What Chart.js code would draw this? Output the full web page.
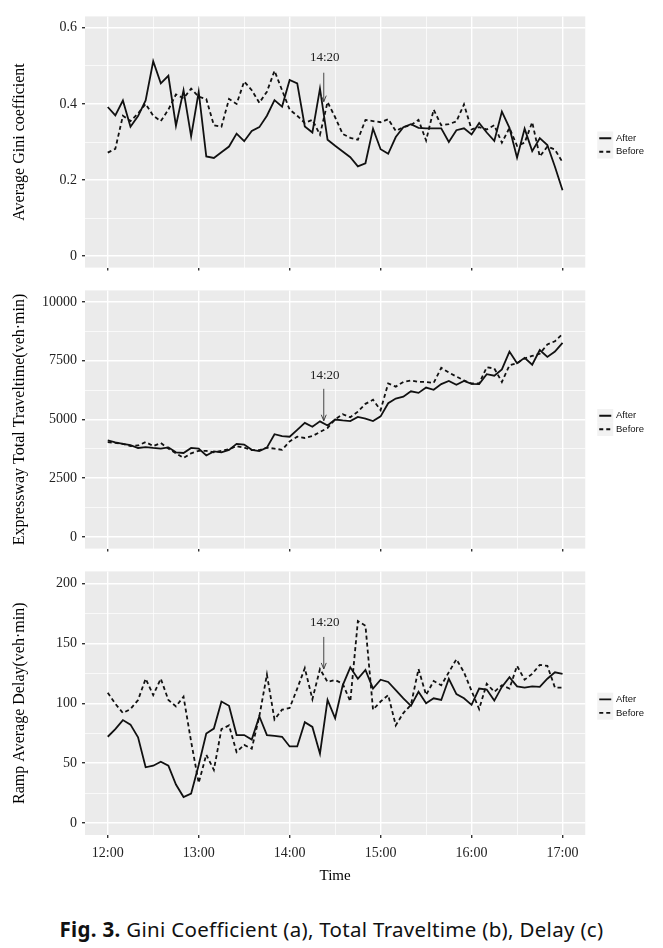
<!DOCTYPE html>
<html>
<head>
<meta charset="utf-8">
<script src="https://cdn.jsdelivr.net/npm/chart.js@4/dist/chart.umd.min.js"></script>
<style>
  html, body { margin: 0; padding: 0; background: #fff; }
  #page { position: relative; width: 663px; height: 948px; overflow: hidden; }
  canvas { position: absolute; left: 0; }
  #caption {
    position: absolute; left: 0; top: 917px; width: 663px;
    text-align: center; font: 20.5px "Noto Sans", sans-serif; line-height: 24px;
    letter-spacing: 0.3px; color: #111;
  }
</style>
</head>
<body>
<div id="page">
  <canvas id="gini" width="663" height="278" style="top:3px"></canvas>
  <canvas id="travel" width="663" height="285" style="top:277px"></canvas>
  <canvas id="delay" width="663" height="327" style="top:558px"></canvas>
  <div id="caption"><b>Fig. 3.</b> Gini Coefficient (a), Total Traveltime (b), Delay (c)</div>
</div>
<script>
// ---- data (5 minute steps, 12:00 - 17:00) ----
const TIMES = ["12:00","12:05","12:10","12:15","12:20","12:25","12:30","12:35","12:40","12:45",
  "12:50","12:55","13:00","13:05","13:10","13:15","13:20","13:25","13:30","13:35",
  "13:40","13:45","13:50","13:55","14:00","14:05","14:10","14:15","14:20","14:25",
  "14:30","14:35","14:40","14:45","14:50","14:55","15:00","15:05","15:10","15:15",
  "15:20","15:25","15:30","15:35","15:40","15:45","15:50","15:55","16:00","16:05",
  "16:10","16:15","16:20","16:25","16:30","16:35","16:40","16:45","16:50","16:55","17:00"];

const GINI_AFTER = [0.392,0.370,0.409,0.340,0.368,0.409,0.512,0.454,0.474,0.343,
  0.436,0.315,0.432,0.262,0.258,0.273,0.288,0.322,0.302,0.329,
  0.339,0.369,0.410,0.393,0.463,0.454,0.341,0.325,0.440,0.306,
  0.290,0.275,0.260,0.236,0.244,0.335,0.281,0.269,0.313,0.339,
  0.347,0.337,0.336,0.336,0.336,0.300,0.331,0.336,0.320,0.350,
  0.325,0.303,0.380,0.337,0.259,0.335,0.276,0.310,0.292,0.235,0.173];
const GINI_BEFORE = [0.272,0.282,0.369,0.355,0.375,0.400,0.369,0.355,0.385,0.425,
  0.415,0.440,0.419,0.413,0.344,0.340,0.413,0.400,0.459,0.436,
  0.403,0.432,0.487,0.436,0.385,0.369,0.350,0.358,0.319,0.405,
  0.365,0.321,0.311,0.306,0.358,0.355,0.352,0.360,0.329,0.339,
  0.344,0.358,0.304,0.385,0.344,0.347,0.354,0.399,0.333,0.339,
  0.333,0.344,0.298,0.337,0.290,0.298,0.352,0.262,0.288,0.280,0.247];

const TT_AFTER = [4107,4027,3960,3907,3787,3827,3787,3760,3813,3600,
  3573,3787,3760,3467,3640,3600,3707,3960,3933,3707,
  3653,3800,4373,4293,4267,4560,4853,4693,4920,4747,
  5000,4960,4933,5107,5040,4933,5133,5693,5893,5973,
  6200,6133,6360,6267,6507,6640,6480,6640,6520,6507,
  6933,6867,7133,7893,7400,7627,7333,7960,7667,7893,8267];
const TT_BEFORE = [4040,4000,3960,3867,3893,4040,3867,4000,3760,3560,
  3360,3560,3667,3667,3600,3667,3733,3867,3800,3693,
  3693,3800,3760,3707,4067,4267,4213,4293,4467,4640,
  5000,5227,5093,5333,5667,5840,5400,6533,6400,6600,
  6667,6600,6600,6560,7200,7000,6827,6667,6533,6533,
  7227,7173,6600,7307,7400,7600,7707,7800,8200,8333,8640];

const DELAY_AFTER = [72,78.3,85.9,82.1,71.5,46.5,47.8,51.1,47.8,32.1,
  21.7,24.5,48.4,74.7,78.8,101.4,97.8,73.4,73.4,69.6,
  89.1,73.4,72.8,72,63.9,63.9,84.2,80.2,57.9,102.7,
  87.4,114.9,129.9,120.4,127.7,112.2,119.6,117.7,110.9,104.1,
  97.8,109.5,100,104.1,102.7,120.4,107.6,104.1,98.6,112.2,
  111.4,102.2,113.6,121.7,114.1,113,114.1,113.6,120.4,125.8,124.5];
const DELAY_BEFORE = [108.7,99.5,91.8,95.1,102.7,120.4,106.8,120.4,102.7,97.3,
  105.4,68,33.4,57,44.3,78.3,81.5,59.2,65.2,62,
  89.1,123.9,86.4,94.6,96,112.2,129.3,103.3,128.5,117.7,
  119.3,116.3,101.4,168.5,164.7,94.6,101.4,106.8,81.5,91.8,
  98.6,128.5,106.8,118.5,115,125.8,136.7,125.8,110.3,95.1,
  116.3,109.5,115,112.2,131.2,119.6,124.5,132,131.2,113,113];

const X_TICKS = ["12:00","13:00","14:00","15:00","16:00","17:00"];
const X_MINOR = ["12:30","13:30","14:30","15:30","16:30"];

const GINI_TICKS = [0, 0.2, 0.4, 0.6];
const GINI_MINOR = [0.1, 0.3, 0.5];
const TT_TICKS = [0, 2500, 5000, 7500, 10000];
const TT_MINOR = [1250, 3750, 6250, 8750];
const DELAY_TICKS = [0, 50, 100, 150, 200];
const DELAY_MINOR = [25, 75, 125, 175];

// "14:20" note: label value, arrow start, arrow tip (in each panel's units)
const NOTE_LABEL = "14:20";
const NOTE_TIME = 142.5; // minutes after 12:00, where the arrow sits
const GINI_NOTE = [0.521, 0.482, 0.406];
const TT_NOTE = [6880, 6307, 4947];
const DELAY_NOTE = [167.5, 155.3, 128.6];

// ---- helpers ----
const mins = t => { const [h, m] = t.split(":").map(Number); return (h - 12) * 60 + m; };
const X_MAJOR = X_TICKS.map(mins);
const X_GRID = X_MAJOR.concat(X_MINOR.map(mins)).sort((a, b) => a - b);

const INK = "#111111";
const SERIF = '"Liberation Serif", "Times New Roman", serif';

const panelBg = {
  id: "panelBg",
  beforeDraw(chart) {
    const { ctx, chartArea: a } = chart;
    ctx.save();
    ctx.fillStyle = "#EBEBEB";
    ctx.fillRect(a.left, a.top, a.right - a.left, a.bottom - a.top);
    // legend key boxes
    const lg = chart.legend;
    if (lg && lg.legendHitBoxes) {
      ctx.fillStyle = "#F2F2F2";
      lg.legendHitBoxes.forEach(hb => ctx.fillRect(hb.left - 2, hb.top - 2, 16, hb.height + 4));
    }
    ctx.restore();
  },
  afterDatasetsDraw(chart, args, opts) {
    const { ctx, scales } = chart;
    const note = opts.note;
    if (!note) return;
    const x = scales.x.getPixelForValue(NOTE_TIME);
    const yText = scales.y.getPixelForValue(note[0]);
    const y0 = scales.y.getPixelForValue(note[1]);
    const y1 = scales.y.getPixelForValue(note[2]);
    ctx.save();
    ctx.fillStyle = "#222";
    ctx.font = "13px " + SERIF;
    ctx.textAlign = "center";
    ctx.textBaseline = "middle";
    ctx.fillText(NOTE_LABEL, x + 1, yText);
    ctx.strokeStyle = "#333";
    ctx.lineWidth = 0.9;
    ctx.beginPath();
    ctx.moveTo(x, y0);
    ctx.lineTo(x, y1);
    ctx.moveTo(x - 2.5, y1 - 6);
    ctx.lineTo(x, y1);
    ctx.lineTo(x + 2.5, y1 - 6);
    ctx.stroke();
    ctx.restore();
  }
};

// legend entries built from the datasets' own line styles
const lineLegend = chart => chart.data.datasets.map((ds, i) => ({
  text: ds.label,
  datasetIndex: i,
  pointStyle: "line",
  lineWidth: ds.borderWidth,
  strokeStyle: ds.borderColor,
  fillStyle: ds.borderColor,
  lineDash: ds.borderDash || [],
  lineCap: "butt",
  fontColor: "#111",
  hidden: false
}));

function makePanel(id, opt) {
  const isMajorY = v => opt.ticks.includes(v);
  const yGrid = opt.ticks.concat(opt.minor).sort((a, b) => a - b);
  return new Chart(document.getElementById(id), {
    type: "line",
    data: {
      datasets: [
        {
          label: "After",
          data: TIMES.map((t, i) => ({ x: mins(t), y: opt.after[i] })),
          borderColor: INK,
          borderWidth: 1.8,
          pointRadius: 0,
          tension: 0
        },
        {
          label: "Before",
          data: TIMES.map((t, i) => ({ x: mins(t), y: opt.before[i] })),
          borderColor: INK,
          borderWidth: 1.8,
          borderDash: [4, 3],
          pointRadius: 0,
          tension: 0
        }
      ]
    },
    options: {
      responsive: false,
      animation: false,
      layout: { padding: { top: 8, left: 0, right: 9, bottom: 0 } },
      plugins: {
        legend: {
          position: "right",
          fullSize: false,
          title: { display: true, text: " ", padding: 0, font: { size: 5 } },
          labels: {
            usePointStyle: true,
            pointStyleWidth: 12,
            padding: 4,
            color: "#111",
            font: { family: '"Liberation Sans", Arial, sans-serif', size: 9.5 },
            generateLabels: lineLegend
          }
        },
        tooltip: { enabled: false },
        panelBg: { note: opt.note }
      },
      scales: {
        x: {
          type: "linear",
          min: -15,
          max: 315,
          afterBuildTicks: s => { s.ticks = X_GRID.map(v => ({ value: v })); },
          afterFit: s => { s.height = opt.last ? 50 : 3; },
          border: { display: false },
          grid: {
            color: "#FFFFFF",
            lineWidth: c => X_MAJOR.includes(c.tick.value) ? 1.4 : 0.7,
            tickLength: 3,
            tickColor: c => X_MAJOR.includes(c.tick.value) ? "#333" : "rgba(0,0,0,0)"
          },
          ticks: {
            display: !!opt.last,
            padding: 7,
            maxRotation: 0,
            autoSkip: false,
            color: "#222",
            font: { family: SERIF, size: 14 },
            callback: v => X_MAJOR.includes(v) ? X_TICKS[X_MAJOR.indexOf(v)] : ""
          },
          title: {
            display: !!opt.last,
            text: "Time",
            color: "#000",
            padding: { top: 0, bottom: 0 },
            font: { family: SERIF, size: 15 }
          }
        },
        y: {
          min: opt.min,
          max: opt.max,
          afterBuildTicks: s => { s.ticks = yGrid.map(v => ({ value: v })); },
          afterFit: s => { s.width = 85; },
          border: { display: false },
          grid: {
            color: "#FFFFFF",
            lineWidth: c => isMajorY(c.tick.value) ? 1.4 : 0.7,
            tickLength: 3,
            tickColor: c => isMajorY(c.tick.value) ? "#333" : "rgba(0,0,0,0)"
          },
          ticks: {
            padding: 5,
            autoSkip: false,
            color: "#222",
            font: { family: SERIF, size: 14 },
            callback: v => isMajorY(v) ? String(v) : ""
          },
          title: {
            display: true,
            text: opt.title,
            color: "#000",
            padding: { top: 10, bottom: 0 },
            font: { family: SERIF, size: 16 }
          }
        },
        gap: {
          type: "linear",
          position: "right",
          grid: { display: false },
          border: { display: false },
          ticks: { display: false },
          afterFit: s => { s.width = 10; }
        }
      }
    },
    plugins: [panelBg]
  });
}

makePanel("gini", {
  after: GINI_AFTER, before: GINI_BEFORE,
  ticks: GINI_TICKS, minor: GINI_MINOR, min: -0.03, max: 0.63,
  title: "Average Gini coefficient", note: GINI_NOTE
});
makePanel("travel", {
  after: TT_AFTER, before: TT_BEFORE,
  ticks: TT_TICKS, minor: TT_MINOR, min: -500, max: 10500,
  title: "Expressway Total Traveltime(veh\u00B7min)", note: TT_NOTE
});
makePanel("delay", {
  after: DELAY_AFTER, before: DELAY_BEFORE,
  ticks: DELAY_TICKS, minor: DELAY_MINOR, min: -10, max: 210,
  title: "Ramp Average Delay(veh\u00B7min)", note: DELAY_NOTE, last: true
});
</script>
</body>
</html>
